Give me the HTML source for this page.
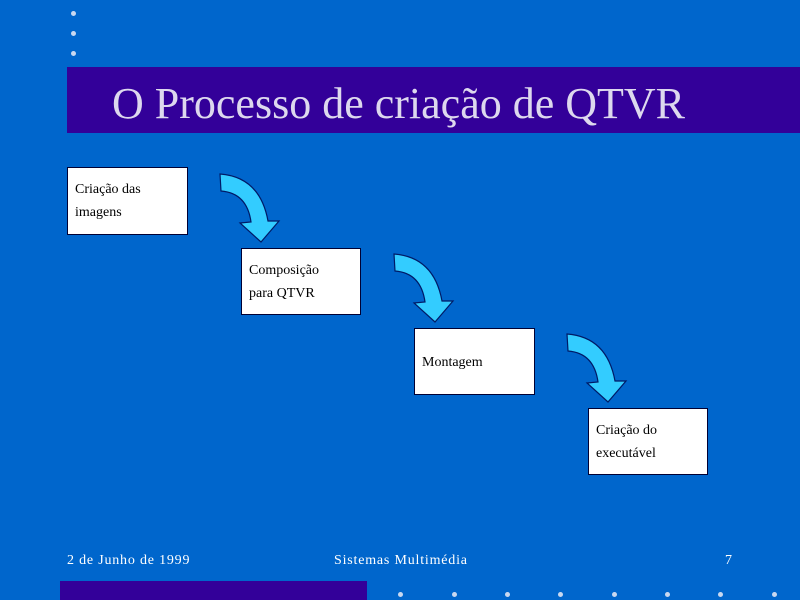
<!DOCTYPE html>
<html><head><meta charset="utf-8"><style>
body{margin:0;width:800px;height:600px;background:#0066cc;position:relative;overflow:hidden;font-family:"Liberation Serif",serif}
.d{position:absolute;width:5px;height:5px;border-radius:50%;background:#c8d8f0}
.box{position:absolute;background:#fff;border:1px solid #000033;box-sizing:border-box;font-size:14px;line-height:23px;padding:10px 0 0 7px;color:#000}
.f{position:absolute;top:553px;color:#fff;font-size:14px;letter-spacing:0.8px}
</style></head><body>
<div class="d" style="left:71px;top:11px"></div>
<div class="d" style="left:71px;top:31px"></div>
<div class="d" style="left:71px;top:51px"></div>
<div style="position:absolute;left:67px;top:67px;width:733px;height:66px;background:#330099"></div>
<div style="position:absolute;left:112px;top:78px;font-size:44px;color:#ddd8ee;white-space:nowrap">O Processo de criação de QTVR</div>
<div class="box" style="left:67px;top:167px;width:121px;height:68px">Criação das<br>imagens</div>
<div class="box" style="left:241px;top:248px;width:120px;height:67px">Composição<br>para QTVR</div>
<div class="box" style="left:414px;top:328px;width:121px;height:67px;padding-top:22px">Montagem</div>
<div class="box" style="left:588px;top:408px;width:120px;height:67px">Criação do<br>executável</div>
<svg width="800" height="600" style="position:absolute;left:0;top:0">
<defs><path id="a" d="M0,-1 Q40,2 48,46 L59,46 L41,67 L20,48 L31,47 Q27,18 1,16 Z" fill="#33ccff" stroke="#001a66" stroke-width="1.2"/></defs>
<use href="#a" x="220" y="175"/>
<use href="#a" x="394" y="255"/>
<use href="#a" x="567" y="335"/>
</svg>
<div class="f" style="left:67px">2 de Junho de 1999</div>
<div class="f" style="left:334px">Sistemas Multimédia</div>
<div class="f" style="left:725px">7</div>
<div style="position:absolute;left:60px;top:581px;width:307px;height:19px;background:#330099"></div>
<div class="d" style="left:398px;top:592px"></div>
<div class="d" style="left:452px;top:592px"></div>
<div class="d" style="left:505px;top:592px"></div>
<div class="d" style="left:558px;top:592px"></div>
<div class="d" style="left:612px;top:592px"></div>
<div class="d" style="left:665px;top:592px"></div>
<div class="d" style="left:718px;top:592px"></div>
<div class="d" style="left:772px;top:592px"></div>
</body></html>
